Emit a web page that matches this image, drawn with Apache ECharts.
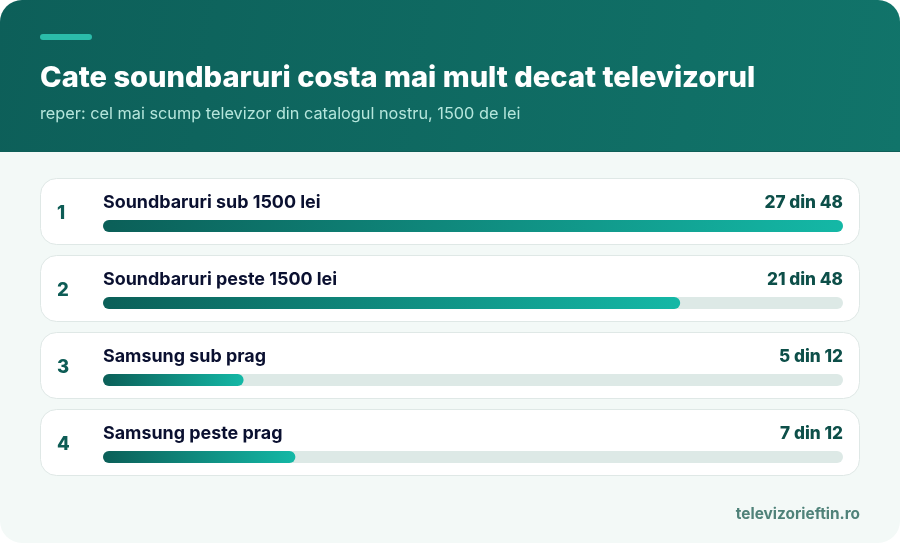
<!DOCTYPE html>
<html>
<head>
<meta charset="utf-8">
<title>Soundbaruri</title>
<script src="https://cdn.jsdelivr.net/npm/echarts@6/dist/echarts.min.js"></script>
<style>
html, body { margin: 0; padding: 0; background: #fff; }
#chart { width: 900px; height: 543px; }
</style>
</head>
<body>
<div id="chart"></div>
<script>
var categories = ['Soundbaruri sub 1500 lei', 'Soundbaruri peste 1500 lei', 'Samsung sub prag', 'Samsung peste prag'];
var counts = [27, 21, 5, 7];
var totals = [48, 48, 12, 12];
// lungimea barelor, in procente din pista
var fillPercent = [100, 78, 19, 26];
var axisMax = 100;

var font = 'Inter';
var chart = echarts.init(document.getElementById('chart'));

// fundalul, antetul si cardurile randurilor
var cardTops = [178.5, 255.5, 332.5, 409.5];
var graphics = [
    { type: 'rect', z: -10, shape: { x: 0, y: 0, width: 900, height: 543, r: 22 }, style: { fill: '#f3f9f7' } },
    { type: 'rect', z: -9, shape: { x: 0, y: 0, width: 900, height: 152, r: [22, 22, 0, 0] },
      style: { fill: new echarts.graphic.LinearGradient(0, 0, 1, 1, [
          { offset: 0, color: '#0d5f59' }, { offset: 1, color: '#11746a' }]) } },
    { type: 'rect', z: -8, shape: { x: 0, y: 151, width: 900, height: 1 }, style: { fill: '#0e5f58' } },
    { type: 'rect', z: -8, shape: { x: 40, y: 34, width: 52, height: 6, r: 3 }, style: { fill: '#2bbcaa' } }
];
cardTops.forEach(function (top) {
    graphics.push({ type: 'rect', z: -7, shape: { x: 40.5, y: top, width: 819, height: 66, r: 16 },
        style: { fill: '#ffffff', stroke: '#dfe8e6', lineWidth: 1 } });
});
graphics.push({ type: 'text', z: 5, x: 860, y: 514, style: { text: 'televizorieftin.ro', font: '700 15.4px ' + font, fill: '#4f8279', align: 'right', verticalAlign: 'middle' } });

var option = {
    animation: false,
    backgroundColor: 'transparent',
    title: {
        text: 'Cate soundbaruri costa mai mult decat televizorul',
        subtext: 'reper: cel mai scump televizor din catalogul nostru, 1500 de lei',
        left: 40, top: 64, padding: 0, itemGap: 13,
        textStyle: { fontFamily: font, fontSize: 29.1, fontWeight: 800, color: '#ffffff' },
        subtextStyle: { fontFamily: font, fontSize: 16.3, fontWeight: 400, color: '#b5e6dc' }
    },
    graphic: graphics,
    grid: { left: 103, top: 187.5, width: 740, height: 308 },
    xAxis: { type: 'value', min: 0, max: axisMax, show: false },
    yAxis: {
        type: 'category',
        inverse: true,
        data: categories,
        axisLine: { show: false },
        axisTick: { show: false },
        axisLabel: {
            margin: 46,
            align: 'left',
            verticalAlign: 'bottom',
            lineHeight: 26,
            fontFamily: font,
            fontSize: 18.5,
            fontWeight: 800,
            color: '#0d5c55',
            formatter: function (value, index) { return String(index + 1); }
        }
    },
    series: [
        {
            // pista gri, poarta si numele randului
            type: 'bar',
            barWidth: 12,
            barGap: '-100%',
            silent: true,
            data: categories.map(function () { return axisMax; }),
            itemStyle: { color: '#dde9e6', borderRadius: 6 },
            label: {
                show: true,
                position: 'insideLeft',
                distance: 0,
                offset: [0, -23],
                formatter: function (p) { return p.name; },
                fontFamily: font, fontSize: 17.9, fontWeight: 700, color: '#0a1030'
            }
        },
        {
            type: 'bar',
            barWidth: 12,
            barGap: '-100%',
            silent: true,
            data: fillPercent,
            itemStyle: {
                borderRadius: 6,
                color: new echarts.graphic.LinearGradient(0, 0, 1, 0, [
                    { offset: 0, color: '#0b5f58' }, { offset: 1, color: '#14b8a6' }])
            }
        },
        {
            // serie transparenta doar pentru textul din dreapta
            type: 'bar',
            barWidth: 12,
            barGap: '-100%',
            silent: true,
            data: categories.map(function () { return axisMax; }),
            itemStyle: { color: 'transparent' },
            label: {
                show: true,
                position: 'insideRight',
                distance: 0,
                offset: [0, -23],
                formatter: function (p) { return counts[p.dataIndex] + ' din ' + totals[p.dataIndex]; },
                fontFamily: font, fontSize: 17.2, fontWeight: 800, color: '#0d4f49'
            }
        }
    ]
};
chart.setOption(option);
</script>
</body>
</html>
